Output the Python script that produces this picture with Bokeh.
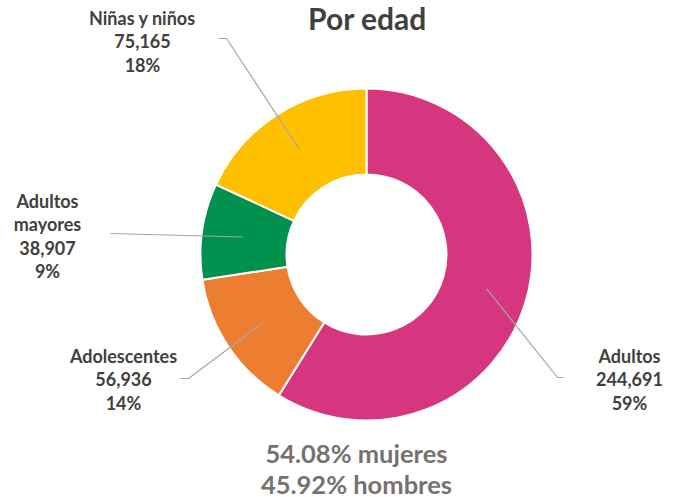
import math
from bokeh.plotting import figure
from bokeh.models import Range1d, ColumnDataSource
from bokeh.core.properties import value
from bokeh.embed import file_html
from bokeh.resources import INLINE

# ---- data ----
categories = ["Adultos", "Adolescentes", "Adultos\nmayores", "Niñas y niños"]
counts = [244691, 56936, 38907, 75165]
colors = ["#D5367F", "#ED7D31", "#00914F", "#FFC000"]
title_text = "Por edad"
footer_lines = ["54.08% mujeres", "45.92% hombres"]

# ---- layout (pixels, from top-left) ----
W, H = 680, 497
CX, CY = 366, 254
R_OUT, R_IN, R_LEAD = 166, 80, 125
label_pos = [(629, 355), (123, 355), (47, 200), (142, 17)]   # center x, first line y
leader_outer = [[(557, 377), (563, 377)], [(188, 378), (180, 378)],
                [(110, 233)], [(226, 38), (218, 38)]]
LINE_H = 23.5

def Y(py):
    return H - py

p = figure(width=W, height=H, output_backend="svg", toolbar_location=None,
           x_range=Range1d(0, W), y_range=Range1d(0, H), min_border=0)
p.axis.visible = False
p.grid.visible = False
p.outline_line_color = None
p.background_fill_color = "white"

total = sum(counts)
fracs = [c / total for c in counts]
starts, ends, cum = [], [], 0.0
for f in fracs:
    starts.append(math.pi / 2 - 2 * math.pi * cum)
    cum += f
    ends.append(math.pi / 2 - 2 * math.pi * cum)

src = ColumnDataSource(dict(x=[CX] * len(counts), y=[Y(CY)] * len(counts),
                            start=starts, end=ends, color=colors))
p.annular_wedge(x="x", y="y", inner_radius=R_IN, outer_radius=R_OUT,
                start_angle="start", end_angle="end", direction="clock",
                fill_color="color", line_color="white", line_width=2, source=src)

# leader lines
for i, f in enumerate(fracs):
    mid = (starts[i] + ends[i]) / 2
    x0 = CX + R_LEAD * math.cos(mid)
    y0 = Y(CY) + R_LEAD * math.sin(mid)
    xs = [x0] + [q[0] for q in leader_outer[i]]
    ys = [y0] + [Y(q[1]) for q in leader_outer[i]]
    p.line(xs, ys, line_color="#A6A6A6", line_width=1.2)

# labels
tx, ty, tt = [], [], []
for i, c in enumerate(counts):
    lines = categories[i].split("\n") + [f"{c:,}", f"{round(100 * c / total)}%"]
    lx, ly = label_pos[i]
    for j, t in enumerate(lines):
        tx.append(lx)
        ty.append(Y(ly + j * LINE_H))
        tt.append(t)
p.text(x=tx, y=ty, text=tt, text_align="center", text_baseline="middle",
       text_font=value("Lato"), text_font_style="bold", text_font_size="18px",
       text_color="#404040")

# title
p.text(x=[367], y=[Y(17)], text=[title_text], text_align="center",
       text_baseline="middle", text_font=value("Lato"), text_font_style="bold",
       text_font_size="30px", text_color="#404040")

# footer
p.text(x=[356, 356], y=[Y(452), Y(483)], text=footer_lines, text_align="center",
       text_baseline="middle", text_font=value("Lato"), text_font_style="bold",
       text_font_size="25.5px", text_color="#767171")

open("out.html", "w").write(file_html(p, INLINE))
